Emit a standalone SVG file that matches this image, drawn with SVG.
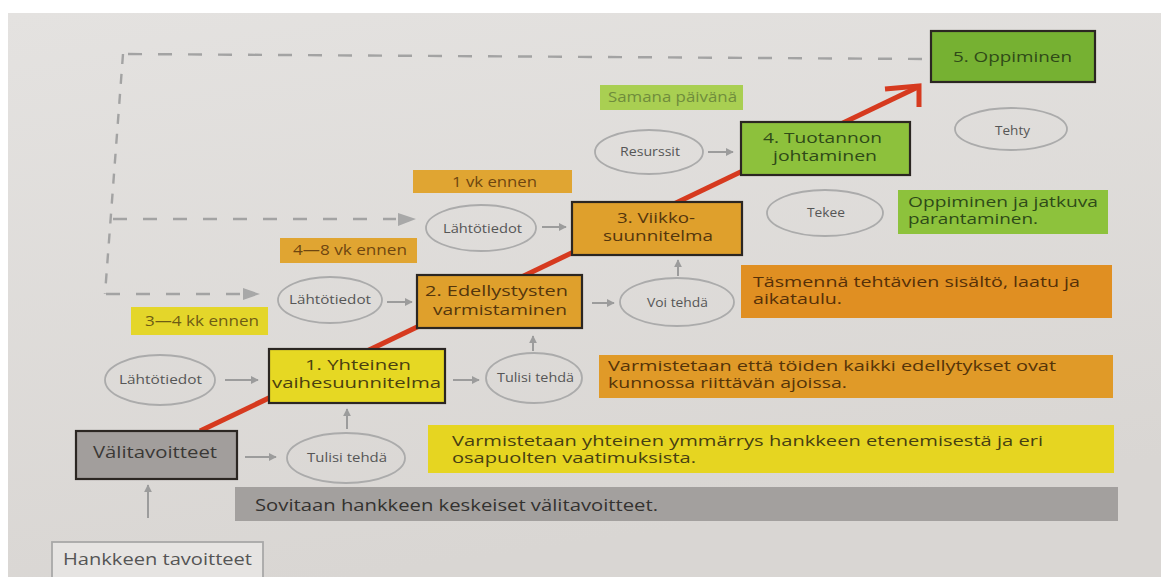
<svg xmlns="http://www.w3.org/2000/svg" width="1161" height="577" viewBox="0 0 1161 577">
<defs>
<linearGradient id="paper" x1="0" y1="0" x2="0.3" y2="1">
<stop offset="0" stop-color="#e4e2e0"/>
<stop offset="1" stop-color="#d9d6d3"/>
</linearGradient>
<marker id="ah" viewBox="0 0 10 10" refX="9" refY="5" markerWidth="4" markerHeight="4" orient="auto">
<path d="M0 0 L10 5 L0 10 z" fill="#9c9c9c"/>
</marker>
<style>
text{font-family:"Open Sans","DejaVu Sans",sans-serif;}
.box{stroke:#2b2622;stroke-width:2.2;}
.ell{fill:none;stroke:#ababab;stroke-width:1.8;}
.et{font-size:12.5px;fill:#565656;}
.bt{font-size:15px;}
.lt{font-size:14px;}
.pt{font-size:16px;}
.dt{font-size:14.5px;}
.con{stroke:#9c9c9c;stroke-width:2;fill:none;marker-end:url(#ah);}
.dh{stroke:#a3a3a3;stroke-width:2.4;fill:none;stroke-dasharray:14 16;}
.dv{stroke:#a3a3a3;stroke-width:2.4;fill:none;stroke-dasharray:10 10;}
.tri{fill:#a8a8a8;}
</style>
</defs>
<rect x="0" y="0" width="1161" height="577" fill="#ffffff"/>
<rect x="8" y="13" width="1153" height="564" fill="url(#paper)"/>

<g id="connectors">
<line class="dh" x1="922" y1="59" x2="123" y2="54"/>
<line class="dv" x1="123" y1="54" x2="105" y2="294"/>
<line class="dh" x1="113" y1="219" x2="396" y2="219"/>
<polygon class="tri" points="398,213 416,219 398,226"/>
<line class="dh" x1="106" y1="294" x2="240" y2="294"/>
<polygon class="tri" points="243,288 260,294 243,300"/>
<line class="con" x1="225" y1="380" x2="258" y2="380"/>
<line class="con" x1="387" y1="302" x2="412" y2="302"/>
<line class="con" x1="542" y1="227" x2="566" y2="227"/>
<line class="con" x1="708" y1="152" x2="733" y2="152"/>
<line class="con" x1="453" y1="380" x2="479" y2="380"/>
<line class="con" x1="592" y1="303" x2="614" y2="303"/>
<line class="con" x1="245" y1="457" x2="276" y2="457"/>
<line class="con" x1="347" y1="429" x2="347" y2="409"/>
<line class="con" x1="533" y1="351" x2="533" y2="336"/>
<line class="con" x1="678" y1="276" x2="678" y2="260"/>
<line class="con" x1="148" y1="518" x2="148" y2="485"/>
<g id="red-arrow">
<line x1="200" y1="431" x2="918" y2="87" stroke="#d63a1f" stroke-width="5"/>
<polyline points="885,89 919,86 919,107" fill="none" stroke="#d63a1f" stroke-width="5" stroke-linejoin="miter"/>
</g>
</g>

<g id="n-valitavoitteet">
<rect class="box" x="76" y="431" width="161" height="48" fill="#a29e9c"/>
<text class="pt" x="93" y="458" textLength="124" lengthAdjust="spacingAndGlyphs" fill="#3a3836">Välitavoitteet</text>
</g>
<g id="n-yhteinen">
<rect class="box" x="269" y="349" width="176" height="54" fill="#e6d823"/>
<text class="bt" x="305" y="370" textLength="106" lengthAdjust="spacingAndGlyphs" fill="#4a4010">1. Yhteinen</text>
<text class="bt" x="272" y="388" textLength="169" lengthAdjust="spacingAndGlyphs" fill="#4a4010">vaihesuunnitelma</text>
</g>
<g id="n-edellytykset">
<rect class="box" x="417" y="275" width="165" height="53" fill="#dfa02c"/>
<text class="bt" x="425" y="296" textLength="143" lengthAdjust="spacingAndGlyphs" fill="#54360c">2. Edellystysten</text>
<text class="bt" x="433" y="315" textLength="134" lengthAdjust="spacingAndGlyphs" fill="#54360c">varmistaminen</text>
</g>
<g id="n-viikko">
<rect class="box" x="572" y="202" width="170" height="53" fill="#dfa02c"/>
<text class="bt" x="617" y="223" textLength="78" lengthAdjust="spacingAndGlyphs" fill="#54360c">3. Viikko-</text>
<text class="bt" x="603" y="241" textLength="110" lengthAdjust="spacingAndGlyphs" fill="#54360c">suunnitelma</text>
</g>
<g id="n-tuotanto">
<rect class="box" x="741" y="122" width="169" height="53" fill="#8dc13c"/>
<text class="bt" x="763" y="143" textLength="119" lengthAdjust="spacingAndGlyphs" fill="#2f4a18">4. Tuotannon</text>
<text class="bt" x="773" y="161" textLength="104" lengthAdjust="spacingAndGlyphs" fill="#2f4a18">johtaminen</text>
</g>
<g id="n-oppiminen">
<rect class="box" x="931" y="31" width="164" height="51" fill="#76b132"/>
<text class="bt" x="953" y="62" textLength="119" lengthAdjust="spacingAndGlyphs" fill="#2f4a18">5. Oppiminen</text>
</g>
<g id="n-hankkeen">
<rect x="52" y="542" width="211" height="40" fill="#e6e4e2" stroke="#a8a8a8" stroke-width="1.8"/>
<text class="pt" x="63" y="565" textLength="189" lengthAdjust="spacingAndGlyphs" fill="#555555">Hankkeen tavoitteet</text>
</g>

<g id="e-lahto1">
<ellipse class="ell" cx="160" cy="380" rx="55" ry="25"/>
<text class="et" x="119" y="384" textLength="83" lengthAdjust="spacingAndGlyphs">Lähtötiedot</text>
</g>
<g id="e-lahto2">
<ellipse class="ell" cx="330" cy="300" rx="52" ry="23"/>
<text class="et" x="289" y="304" textLength="82" lengthAdjust="spacingAndGlyphs">Lähtötiedot</text>
</g>
<g id="e-lahto3">
<ellipse class="ell" cx="481" cy="228" rx="55" ry="23"/>
<text class="et" x="443" y="233" textLength="79" lengthAdjust="spacingAndGlyphs">Lähtötiedot</text>
</g>
<g id="e-resurssit">
<ellipse class="ell" cx="649" cy="152" rx="54" ry="22"/>
<text class="et" x="620" y="156" textLength="60" lengthAdjust="spacingAndGlyphs">Resurssit</text>
</g>
<g id="e-tekee">
<ellipse class="ell" cx="825" cy="213" rx="58" ry="23"/>
<text class="et" x="807" y="217" textLength="38" lengthAdjust="spacingAndGlyphs">Tekee</text>
</g>
<g id="e-tehty">
<ellipse class="ell" cx="1011" cy="129" rx="56" ry="21"/>
<text class="et" x="995" y="135" textLength="35" lengthAdjust="spacingAndGlyphs">Tehty</text>
</g>
<g id="e-voi">
<ellipse class="ell" cx="677" cy="302" rx="57" ry="24"/>
<text class="et" x="647" y="307" textLength="61" lengthAdjust="spacingAndGlyphs">Voi tehdä</text>
</g>
<g id="e-tulisi2">
<ellipse class="ell" cx="534" cy="378" rx="48" ry="25"/>
<text class="et" x="497" y="382" textLength="77" lengthAdjust="spacingAndGlyphs">Tulisi tehdä</text>
</g>
<g id="e-tulisi1">
<ellipse class="ell" cx="346" cy="458" rx="59" ry="25"/>
<text class="et" x="307" y="462" textLength="80" lengthAdjust="spacingAndGlyphs">Tulisi tehdä</text>
</g>

<g id="l-34kk">
<rect x="131" y="307" width="137" height="28" fill="#e4d62a"/>
<text class="lt" x="145" y="326" textLength="114" lengthAdjust="spacingAndGlyphs" fill="#6e5c14">3—4 kk ennen</text>
</g>
<g id="l-48vk">
<rect x="280" y="238" width="137" height="25" fill="#e0a532"/>
<text class="lt" x="293" y="255" textLength="114" lengthAdjust="spacingAndGlyphs" fill="#6e4610">4—8 vk ennen</text>
</g>
<g id="l-1vk">
<rect x="413" y="170" width="159" height="23" fill="#e0a532"/>
<text class="lt" x="452" y="187" textLength="85" lengthAdjust="spacingAndGlyphs" fill="#6e4610">1 vk ennen</text>
</g>
<g id="l-samana">
<rect x="600" y="85" width="143" height="25" fill="#a9cf52"/>
<text class="lt" x="608" y="102" textLength="129" lengthAdjust="spacingAndGlyphs" fill="#6f8c3c">Samana päivänä</text>
</g>

<g id="d-sovitaan">
<rect x="235" y="487" width="883" height="34" fill="#a3a09e"/>
<text class="pt" x="255" y="511" textLength="403" lengthAdjust="spacingAndGlyphs" fill="#333230">Sovitaan hankkeen keskeiset välitavoitteet.</text>
</g>
<g id="d-yhteinen">
<rect x="428" y="425" width="686" height="48" fill="#e6d521"/>
<text class="dt" x="452" y="446" textLength="591" lengthAdjust="spacingAndGlyphs" fill="#464012">Varmistetaan yhteinen ymmärrys hankkeen etenemisestä ja eri</text>
<text class="dt" x="452" y="463" textLength="244" lengthAdjust="spacingAndGlyphs" fill="#464012">osapuolten vaatimuksista.</text>
</g>
<g id="d-edellytykset">
<rect x="599" y="355" width="514" height="43" fill="#e09a28"/>
<text class="dt" x="608" y="371" textLength="448" lengthAdjust="spacingAndGlyphs" fill="#553408">Varmistetaan että töiden kaikki edellytykset ovat</text>
<text class="dt" x="608" y="388" textLength="239" lengthAdjust="spacingAndGlyphs" fill="#553408">kunnossa riittävän ajoissa.</text>
</g>
<g id="d-tasmenna">
<rect x="741" y="265" width="371" height="53" fill="#e08f22"/>
<text class="dt" x="753" y="287" textLength="327" lengthAdjust="spacingAndGlyphs" fill="#553008">Täsmennä tehtävien sisältö, laatu ja</text>
<text class="dt" x="753" y="304" textLength="89" lengthAdjust="spacingAndGlyphs" fill="#553008">aikataulu.</text>
</g>
<g id="d-oppiminen">
<rect x="898" y="190" width="210" height="44" fill="#8dc23c"/>
<text class="dt" x="908" y="207" textLength="190" lengthAdjust="spacingAndGlyphs" fill="#2e4a18">Oppiminen ja jatkuva</text>
<text class="dt" x="908" y="224" textLength="130" lengthAdjust="spacingAndGlyphs" fill="#2e4a18">parantaminen.</text>
</g>
</svg>
